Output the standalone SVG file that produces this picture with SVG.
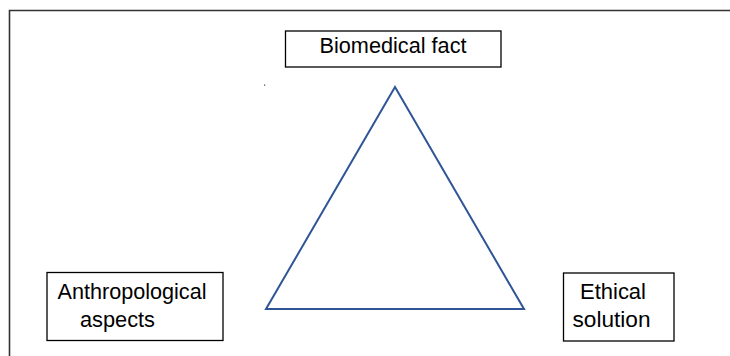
<svg xmlns="http://www.w3.org/2000/svg" width="730" height="356" viewBox="0 0 730 356">
<style>
.box{fill:#fff;stroke:#000;stroke-width:1.3}
.t{font-family:"Liberation Sans",Arial,sans-serif;font-size:22px;fill:#000}
.frame{stroke:#333;stroke-width:1.6;fill:none}
.tri{fill:none;stroke:#2F5597;stroke-width:2;stroke-linejoin:miter}
</style>
<rect width="730" height="356" fill="#fff"/>
<path class="frame" d="M9.5 356 V10.5 H730"/>
<rect x="264" y="84.5" width="1.2" height="1.2" fill="#444"/>
<g id="connectors">
<polygon class="tri" points="395,87 266,309 524,309"/>
</g>
<g id="biomedical">
<rect class="box" x="285.5" y="31" width="215.5" height="36"/>
<text class="t" x="319.5" y="52.5" textLength="147" lengthAdjust="spacingAndGlyphs">Biomedical fact</text>
</g>
<g id="anthropological">
<rect class="box" x="47" y="272.5" width="176" height="68"/>
<text class="t" x="57.5" y="299.3" textLength="149" lengthAdjust="spacingAndGlyphs">Anthropological</text>
<text class="t" x="80" y="326.7" textLength="75" lengthAdjust="spacingAndGlyphs">aspects</text>
</g>
<g id="ethical">
<rect class="box" x="563.5" y="273" width="110.5" height="68"/>
<text class="t" x="580" y="299" textLength="66" lengthAdjust="spacingAndGlyphs">Ethical</text>
<text class="t" x="572.5" y="326.7" textLength="78" lengthAdjust="spacingAndGlyphs">solution</text>
</g>
</svg>
